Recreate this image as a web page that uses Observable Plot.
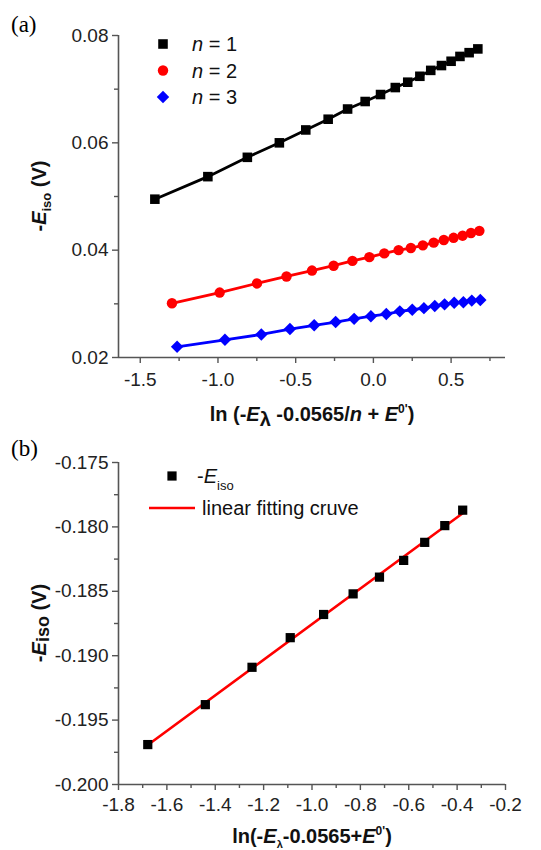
<!DOCTYPE html>
<html><head><meta charset="utf-8">
<script src="https://cdn.jsdelivr.net/npm/d3@7"></script>
<script src="https://cdn.jsdelivr.net/npm/@observablehq/plot@0.6"></script>
<style>
body{margin:0;background:#fff;}
#chart svg{display:block;}
</style></head><body><div id="chart"></div>
<script>
// ---- Panel (a) data ----
const seriesNames = ["n = 1", "n = 2", "n = 3"];
const seriesColors = ["#000000", "#ff0000", "#0000ff"];
const xN1 = [-1.406, -1.065, -0.811, -0.605, -0.435, -0.291, -0.166, -0.053, 0.046, 0.141, 0.221, 0.299, 0.369, 0.438, 0.500, 0.557, 0.616, 0.672];
const yN1 = [0.0495, 0.0537, 0.0573, 0.0600, 0.0624, 0.0644, 0.0663, 0.0677, 0.0690, 0.0703, 0.0713, 0.0724, 0.0735, 0.0744, 0.0752, 0.0761, 0.0768, 0.0775];
const xN2 = [-1.296, -0.989, -0.749, -0.559, -0.395, -0.256, -0.135, -0.026, 0.070, 0.162, 0.241, 0.318, 0.388, 0.453, 0.516, 0.574, 0.628, 0.682];
const yN2 = [0.0301, 0.0321, 0.0338, 0.0351, 0.0362, 0.0371, 0.0380, 0.0387, 0.0394, 0.0400, 0.0404, 0.0409, 0.0414, 0.0419, 0.0423, 0.0427, 0.0432, 0.0436];
const xN3 = [-1.263, -0.955, -0.721, -0.537, -0.381, -0.243, -0.124, -0.016, 0.083, 0.170, 0.250, 0.325, 0.395, 0.458, 0.520, 0.579, 0.633, 0.688];
const yN3 = [0.0220, 0.0233, 0.0243, 0.0253, 0.0260, 0.0266, 0.0272, 0.0277, 0.0281, 0.0286, 0.0289, 0.0292, 0.0296, 0.0299, 0.0302, 0.0303, 0.0306, 0.0307];
const aXTicks = [-1.5, -1.0, -0.5, 0.0, 0.5];
const aXMinor = [-1.25, -0.75, -0.25, 0.25, 0.75];
const aYTicks = [0.02, 0.04, 0.06, 0.08];
const aYMinor = [0.03, 0.05, 0.07];

// ---- Panel (b) data ----
const xB = [-1.679, -1.441, -1.248, -1.090, -0.952, -0.830, -0.721, -0.621, -0.534, -0.451, -0.377];
const yB = [-0.1969, -0.1938, -0.1909, -0.1886, -0.1868, -0.1852, -0.1839, -0.1826, -0.1812, -0.1799, -0.1787];
const bXTicks = [-1.8, -1.6, -1.4, -1.2, -1.0, -0.8, -0.6, -0.4, -0.2];
const bXMinor = [-1.7, -1.5, -1.3, -1.1, -0.9, -0.7, -0.5, -0.3];
const bYTicks = [-0.200, -0.195, -0.190, -0.185, -0.180, -0.175];
const bYMinor = [-0.1975, -0.1925, -0.1875, -0.1825, -0.1775];

const FONT = "'Liberation Sans', Arial, sans-serif";
const AXT = "#222";
const AXS = "#555";

const rowsA = [];
[[xN1, yN1], [xN2, yN2], [xN3, yN3]].forEach(([xs, ys], k) =>
  xs.forEach((x, i) => rowsA.push({series: seriesNames[k], x, y: ys[i]})));
const rowsB = xB.map((x, i) => ({x, y: yB[i]}));

function axes(xd, yd, xt, xm, yt, ym, xf, yf, xpad) {
  return [
    Plot.axisX({ticks: xt, tickSize: 6, tickPadding: xpad, tickFormat: xf, label: null, color: AXT, stroke: AXS, strokeWidth: 1.4, fontSize: 19}),
    Plot.axisX({ticks: xm, tickSize: 4, tickFormat: () => "", label: null, color: AXT, stroke: AXS, strokeWidth: 1.4}),
    Plot.axisY({ticks: yt, tickSize: 6, tickPadding: 4, tickFormat: yf, label: null, color: AXT, stroke: AXS, strokeWidth: 1.4, fontSize: 19}),
    Plot.axisY({ticks: ym, tickSize: 4, tickFormat: () => "", label: null, color: AXT, stroke: AXS, strokeWidth: 1.4}),
    Plot.ruleX([xd[0]], {stroke: AXS, strokeWidth: 1.6}),
    Plot.ruleY([yd[0]], {stroke: AXS, strokeWidth: 1.6})
  ];
}

const xdA = [-1.64, 0.85], ydA = [0.02, 0.08];
const plotA = Plot.plot({
  width: 541, height: 425,
  marginTop: 35, marginBottom: 68, marginLeft: 118, marginRight: 36,
  style: {fontFamily: FONT, fontSize: "19px", background: "white", overflow: "visible"},
  x: {domain: xdA},
  y: {domain: ydA},
  color: {domain: seriesNames, range: seriesColors},
  marks: [
    ...axes(xdA, ydA, aXTicks, aXMinor, aYTicks, aYMinor, d => d.toFixed(1), d => d.toFixed(2), 9),
    Plot.line(rowsA, {x: "x", y: "y", z: "series", stroke: "series", strokeWidth: 2.8}),
    Plot.dot(rowsA.filter(d => d.series === seriesNames[0]), {x: "x", y: "y", symbol: "square", fill: seriesColors[0], r: 5.4}),
    Plot.dot(rowsA.filter(d => d.series === seriesNames[1]), {x: "x", y: "y", symbol: "circle", fill: seriesColors[1], r: 5.2}),
    Plot.dot(rowsA.filter(d => d.series === seriesNames[2]), {x: "x", y: "y", symbol: "diamond2", fill: seriesColors[2], r: 5.6})
  ]
});

const xdB = [-1.8, -0.2], ydB = [-0.200, -0.175];
const plotB = Plot.plot({
  width: 541, height: 425,
  marginTop: 37, marginBottom: 66, marginLeft: 118, marginRight: 36,
  style: {fontFamily: FONT, fontSize: "19px", background: "white", overflow: "visible"},
  x: {domain: xdB},
  y: {domain: ydB},
  marks: [
    ...axes(xdB, ydB, bXTicks, bXMinor, bYTicks, bYMinor, d => d.toFixed(1), d => d.toFixed(3), 7),
    Plot.linearRegressionY(rowsB, {x: "x", y: "y", stroke: "#ff0000", strokeWidth: 2.6, ci: 0}),
    Plot.dot(rowsB, {x: "x", y: "y", symbol: "square", fill: "#000", r: 5.2})
  ]
});

const root = document.getElementById("chart");
root.appendChild(plotA);
root.appendChild(plotB);

// Rich text helper
function rich(svg, x, y, parts, opts = {}) {
  const t = d3.select(svg).append("text")
    .attr("x", x).attr("y", y)
    .attr("font-family", opts.family || FONT)
    .attr("font-size", opts.size || 20)
    .attr("font-weight", opts.weight || "normal")
    .attr("fill", opts.fill || "#111")
    .attr("text-anchor", opts.anchor || "start");
  if (opts.rotate) t.attr("transform", `rotate(${opts.rotate},${x},${y})`);
  parts.forEach(p => {
    const s = t.append("tspan").text(p.t);
    if (p.i) s.attr("font-style", "italic");
    if (p.s) s.attr("font-size", p.s);
    if (p.dy) s.attr("dy", p.dy);
  });
  return t;
}

// Panel labels
rich(plotA, 11, 32, [{t: "(a)"}], {family: "'Liberation Serif', 'Times New Roman', serif", size: 23, fill: "#000"});
rich(plotB, 11, 31, [{t: "(b)"}], {family: "'Liberation Serif', 'Times New Roman', serif", size: 23, fill: "#000"});

// Axis titles (a)
rich(plotA, 46, 196, [{t: "-"}, {t: "E", i: true}, {t: "iso", s: 13, dy: 5}, {t: " (V)", dy: -5}],
  {weight: "bold", anchor: "middle", rotate: -90, size: 20});
rich(plotA, 312, 421, [{t: "ln (-"}, {t: "E", i: true}, {t: "λ", dy: 5}, {t: " -0.0565/", dy: -5}, {t: "n", i: true}, {t: " + "}, {t: "E", i: true}, {t: "0'", s: 12, dy: -8}, {t: ")", dy: 8}],
  {weight: "bold", anchor: "middle", size: 20});

// Axis titles (b)
rich(plotB, 46, 198, [{t: "-"}, {t: "E", i: true}, {t: "iso", s: 18, dy: 3}, {t: " (V)", dy: -3}],
  {weight: "bold", anchor: "middle", rotate: -90, size: 20});
rich(plotB, 312, 418, [{t: "ln(-"}, {t: "E", i: true}, {t: "λ", s: 11, dy: 5}, {t: "-0.0565+", dy: -5}, {t: "E", i: true}, {t: "0'", s: 12, dy: -8}, {t: ")", dy: 8}],
  {weight: "bold", anchor: "middle", size: 20});

// Legend (a)
const legA = d3.select(plotA).append("g");
const symA = [d3.symbolSquare, d3.symbolCircle, d3.symbolDiamond2];
const sizeA = [Math.PI * 5.4 * 5.4, Math.PI * 5.2 * 5.2, Math.PI * 5.6 * 5.6];
seriesNames.forEach((name, k) => {
  const cy = 44 + k * 26.5;
  legA.append("path").attr("d", d3.symbol(symA[k], sizeA[k])()).attr("transform", `translate(163,${cy})`).attr("fill", seriesColors[k]);
  rich(plotA, 192, cy + 7, [{t: "n", i: true}, {t: name.slice(1)}], {size: 20});
});

// Legend (b)
const legB = d3.select(plotB).append("g");
legB.append("path").attr("d", d3.symbol(d3.symbolSquare, Math.PI * 5.2 * 5.2)()).attr("transform", "translate(172,51)").attr("fill", "#000");
rich(plotB, 197, 58, [{t: "-"}, {t: "E", i: true}, {t: "iso", s: 13, dy: 7}], {size: 20});
legB.append("line").attr("x1", 149).attr("x2", 195).attr("y1", 83).attr("y2", 83).attr("stroke", "#ff0000").attr("stroke-width", 2.6);
rich(plotB, 202, 90, [{t: "linear fitting cruve"}], {size: 20});
</script></body></html>
